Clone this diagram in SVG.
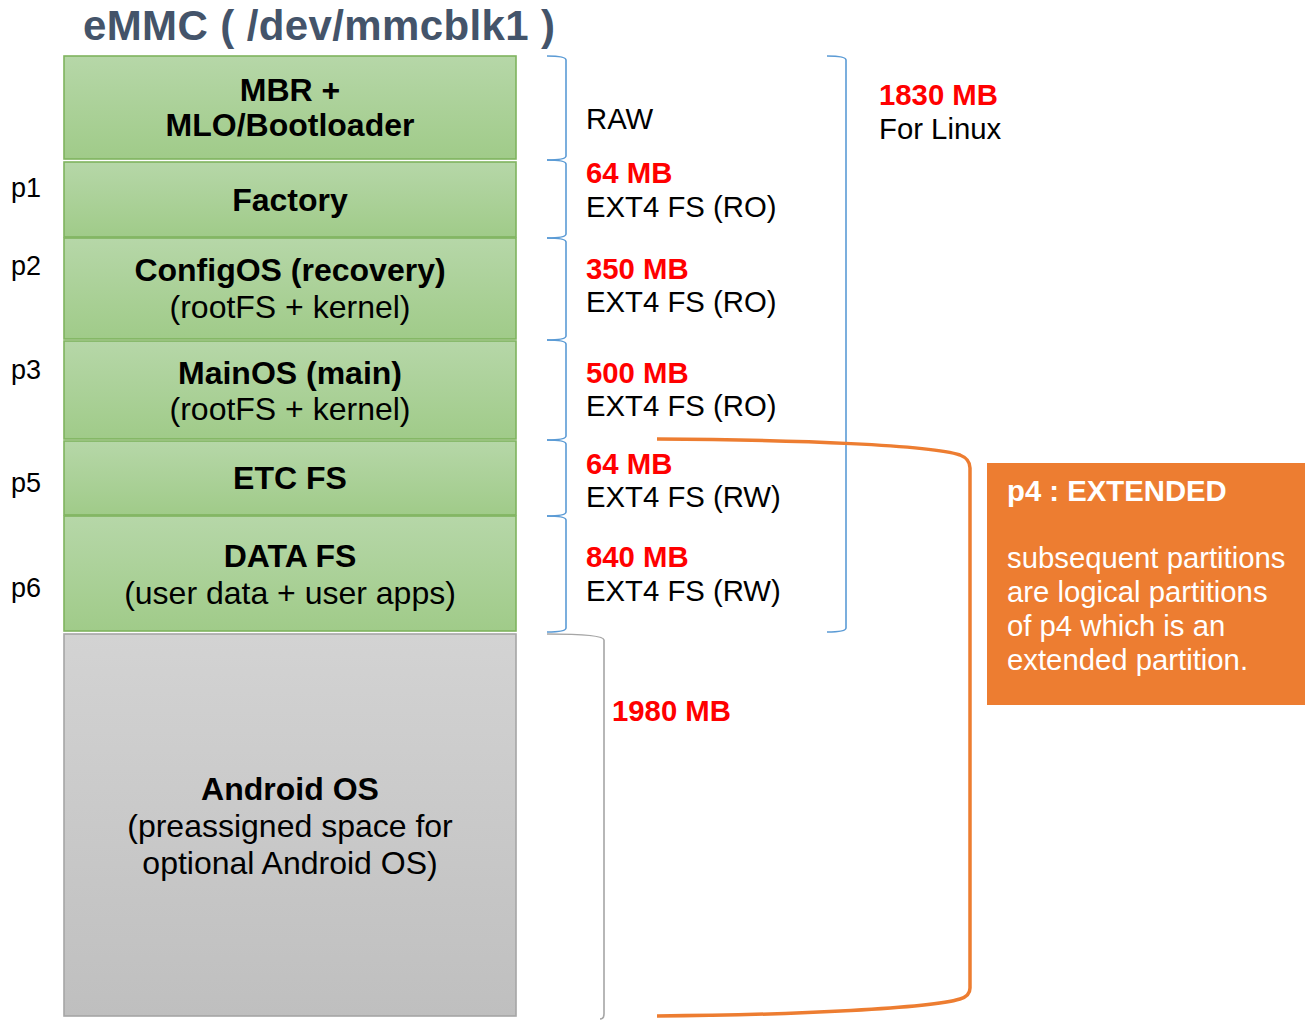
<svg xmlns="http://www.w3.org/2000/svg" width="1312" height="1020" viewBox="0 0 1312 1020">
<defs>
<linearGradient id="gG" x1="0" y1="0" x2="0" y2="1"><stop offset="0" stop-color="#B6D7A8"/><stop offset="1" stop-color="#A0CB89"/></linearGradient>
<linearGradient id="gY" x1="0" y1="0" x2="0" y2="1"><stop offset="0" stop-color="#D3D3D3"/><stop offset="1" stop-color="#BFBFBF"/></linearGradient>
<style>
.g{fill:url(#gG);stroke:#7FB35E;stroke-width:1.6}
.y{fill:url(#gY);stroke:#A6A6A6;stroke-width:1.6}
text{font-family:"Liberation Sans",Arial,sans-serif}
.bt{font-size:32px;font-weight:bold;fill:#000;text-anchor:middle}
.rt{font-size:32px;fill:#000;text-anchor:middle}
.s{font-size:29.3px;fill:#000}
.r{font-size:29.3px;font-weight:bold;fill:#FF0000}
.p{font-size:27px;fill:#000}
.w{font-size:29.3px;fill:#fff}
.bb{fill:none;stroke:#5B9BD5;stroke-width:1.6}
.gb{fill:none;stroke:#A6A6A6;stroke-width:1.6}
</style>
</defs>
<text x="83" y="40" font-size="42" font-weight="bold" fill="#44546A" textLength="472" lengthAdjust="spacing">eMMC ( /dev/mmcblk1 )</text>
<g id="mbr"><rect class="g" x="64" y="56" width="452" height="103"/><text class="bt" x="290" y="101">MBR +</text><text class="bt" x="290" y="136">MLO/Bootloader</text></g>
<g id="factory"><rect class="g" x="64" y="162" width="452" height="75"/><text class="bt" x="290" y="211">Factory</text><text class="p" x="11" y="197">p1</text></g>
<g id="configos"><rect class="g" x="64" y="238" width="452" height="101"/><text class="bt" x="290" y="281">ConfigOS (recovery)</text><text class="rt" x="290" y="318">(rootFS + kernel)</text><text class="p" x="11" y="275">p2</text></g>
<g id="mainos"><rect class="g" x="64" y="341" width="452" height="98"/><text class="bt" x="290" y="384">MainOS (main)</text><text class="rt" x="290" y="420">(rootFS + kernel)</text><text class="p" x="11" y="379">p3</text></g>
<g id="etcfs"><rect class="g" x="64" y="441" width="452" height="74"/><text class="bt" x="290" y="489">ETC FS</text><text class="p" x="11" y="492">p5</text></g>
<g id="datafs"><rect class="g" x="64" y="516" width="452" height="115"/><text class="bt" x="290" y="567">DATA FS</text><text class="rt" x="290" y="604">(user data + user apps)</text><text class="p" x="11" y="597">p6</text></g>
<g id="android"><rect class="y" x="64" y="634" width="452" height="382"/><text class="bt" x="290" y="800">Android OS</text><text class="rt" x="290" y="837">(preassigned space for</text><text class="rt" x="290" y="874">optional Android OS)</text></g>
<g id="connectors">
<path class="bb" d="M547,56 Q566,56 566,60 L566,156 Q566,160 547,160"/>
<path class="bb" d="M547,160 Q566,160 566,164 L566,234 Q566,238 547,238"/>
<path class="bb" d="M547,238 Q566,238 566,242 L566,336 Q566,340 547,340"/>
<path class="bb" d="M547,340 Q566,340 566,344 L566,436 Q566,440 547,440"/>
<path class="bb" d="M547,440 Q566,440 566,444 L566,512 Q566,516 547,516"/>
<path class="bb" d="M547,516 Q566,516 566,520 L566,628 Q566,632 547,632"/>
<path class="bb" d="M827,56 Q846,56 846,60 L846,628 Q846,632 827,632"/>
<path class="gb" d="M547,634 Q604,634 604,640 L604,1014 Q604,1019 600,1019"/>
<path fill="none" stroke="#ED7D31" stroke-width="3.5" d="M657,439 C800,440 930,445 960,455 Q970,459 970,468 L970,988 Q970,996 960,999 C930,1008 800,1015 657,1016"/>
</g>
<g id="labels">
<text class="s" x="586" y="129">RAW</text>
<text class="r" x="586" y="183">64 MB</text><text class="s" x="586" y="217">EXT4 FS (RO)</text>
<text class="r" x="586" y="279">350 MB</text><text class="s" x="586" y="312">EXT4 FS (RO)</text>
<text class="r" x="586" y="383">500 MB</text><text class="s" x="586" y="416">EXT4 FS (RO)</text>
<text class="r" x="586" y="474">64 MB</text><text class="s" x="586" y="507">EXT4 FS (RW)</text>
<text class="r" x="586" y="567">840 MB</text><text class="s" x="586" y="601">EXT4 FS (RW)</text>
<text class="r" x="879" y="105">1830 MB</text><text class="s" x="879" y="139">For Linux</text>
<text class="r" x="612" y="721">1980 MB</text>
</g>
<g id="extended">
<rect x="987" y="463" width="318" height="242" fill="#ED7D31"/>
<text class="w" x="1007" y="501" font-weight="bold">p4 : EXTENDED</text>
<text class="w" x="1007" y="568">subsequent partitions</text>
<text class="w" x="1007" y="602">are logical partitions</text>
<text class="w" x="1007" y="636">of p4 which is an</text>
<text class="w" x="1007" y="670">extended partition.</text>
</g>
</svg>
